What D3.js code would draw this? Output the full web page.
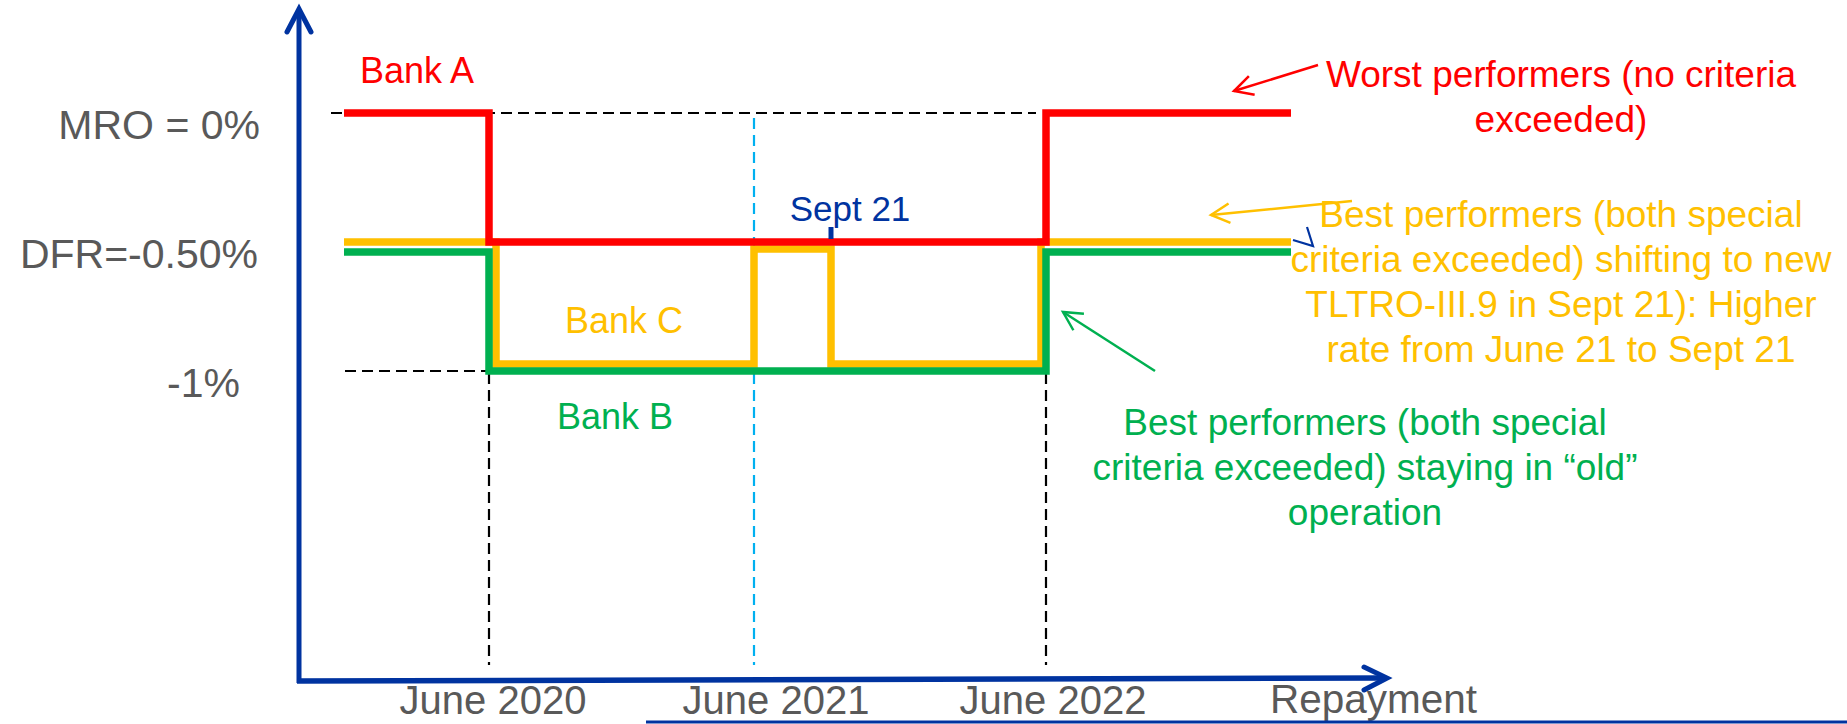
<!DOCTYPE html>
<html>
<head>
<meta charset="utf-8">
<script src="https://cdn.jsdelivr.net/npm/d3@7"></script>
<style>
  body { margin: 0; background: #fff; }
  text { font-family: "Liberation Sans", Arial, sans-serif; }
</style>
</head>
<body>
<div id="chart"></div>
<script>
// data //
const milestones = ['start', 'June 2020', 'June 2021', 'Sept 21', 'June 2022', 'end']
const milestoneMonths = [0, 6, 18, 21, 30, 40]
const rateLevels = [0, -0.5, -1]
const rateLabels = ['MRO = 0%', 'DFR=-0.50%', '-1%']
const xTickMonths = [6, 18, 30]
const xTickLabels = ['June 2020', 'June 2021', 'June 2022']
const bankAMonths = [0, 6, 30, 40]
const bankARates = [0, -0.5, 0, 0]
const bankBMonths = [0, 6, 30, 40]
const bankBRates = [-0.5, -1, -0.5, -0.5]
const bankCMonths = [0, 6, 18, 21, 30, 40]
const bankCRates = [-0.5, -1, -0.5, -1, -0.5, -0.5]

// layout //
const width = 1847
const height = 724
const milestoneX = [344, 489, 754, 831, 1046, 1291] // schematic, uneven spacing
const lineWidth = 7.5
const axisColor = '#0033A0'
const labelGray = '#595959'
const red = '#FF0000'
const yellow = '#FFC000'
const green = '#00B050'

const x = d3.scaleLinear().domain(milestoneMonths).range(milestoneX)
const y = d3.scaleLinear().domain([-1, 0]).range([371, 113])

const svg = d3.select('#chart').append('svg')
  .attr('width', width)
  .attr('height', height)

// guide lines //
const dash = '11,6'
svg.append('line')
  .attr('x1', 331).attr('x2', 1036)
  .attr('y1', y(0)).attr('y2', y(0))
  .attr('stroke', '#000').attr('stroke-width', 2.2).attr('stroke-dasharray', dash)
svg.append('line')
  .attr('x1', 345).attr('x2', x(6))
  .attr('y1', y(-1)).attr('y2', y(-1))
  .attr('stroke', '#000').attr('stroke-width', 2.2).attr('stroke-dasharray', dash)

xTickMonths.forEach((m, i) => {
  const top = i === 1 ? 118 : y(-1) + 2
  svg.append('line')
    .attr('x1', x(m)).attr('x2', x(m))
    .attr('y1', top).attr('y2', 665)
    .attr('stroke', i === 1 ? '#00B0F0' : '#000')
    .attr('stroke-width', 2.2)
    .attr('stroke-dasharray', dash)
})

// step lines //
const rateAt = (months, rates, t) => {
  let r = rates[0]
  months.forEach((m, i) => { if (m <= t) r = rates[i] })
  return r
}

const series = [
  { key: 'C', months: bankCMonths, rates: bankCRates, color: yellow },
  { key: 'B', months: bankBMonths, rates: bankBRates, color: green },
  { key: 'A', months: bankAMonths, rates: bankARates, color: red }
]

// small pixel nudges so overlapping levels stay visible
const nudgeY = (key, rate, t) => {
  if (key === 'B' && rate === -0.5) return 10
  if (key === 'C' && rate === -1) return -7
  if (key === 'C' && rate === -0.5 && rateAt(bankAMonths, bankARates, t) === -0.5) return 7
  return 0
}
const nudgeX = (s, i) => {
  if (s.key !== 'C' || i === 0 || i === s.months.length - 1) return 0
  if (!bankBMonths.includes(s.months[i])) return 0
  return s.rates[i] < s.rates[i - 1] ? 7 : -5
}

const stepLine = d3.line()
  .x(d => d.x)
  .y(d => d.y)
  .curve(d3.curveStepAfter)

series.forEach(s => {
  const pts = s.months.map((m, i) => ({
    x: x(m) + nudgeX(s, i),
    y: y(s.rates[i]) + nudgeY(s.key, s.rates[i], m)
  }))
  svg.append('path')
    .attr('d', stepLine(pts))
    .attr('fill', 'none')
    .attr('stroke', s.color)
    .attr('stroke-width', lineWidth)
    .attr('stroke-linejoin', 'miter')
})

// Sept 21 marker //
svg.append('line')
  .attr('x1', x(21)).attr('x2', x(21))
  .attr('y1', 227).attr('y2', 239)
  .attr('stroke', axisColor).attr('stroke-width', 5)
svg.append('text')
  .attr('x', x(21) + 19).attr('y', 221)
  .attr('text-anchor', 'middle')
  .style('font-size', '35px')
  .attr('fill', axisColor)
  .text(milestones[3])

// axes //
svg.append('line')
  .attr('x1', 299).attr('y1', 683).attr('x2', 299).attr('y2', 10)
  .attr('stroke', axisColor).attr('stroke-width', 5)
svg.append('polyline')
  .attr('points', '287,32 299,9 311,32')
  .attr('fill', 'none').attr('stroke', axisColor).attr('stroke-width', 5)
  .attr('stroke-linecap', 'round').attr('stroke-linejoin', 'miter')
svg.append('line')
  .attr('x1', 297).attr('y1', 681).attr('x2', 1386).attr('y2', 678)
  .attr('stroke', axisColor).attr('stroke-width', 5.5)
svg.append('polyline')
  .attr('points', '1364,667 1387,678 1364,690')
  .attr('fill', 'none').attr('stroke', axisColor).attr('stroke-width', 5)
  .attr('stroke-linecap', 'round')

// rate labels
const rateLabelEnd = [260, 258, 240]
svg.selectAll('.rate-label')
  .data(rateLevels)
  .enter()
  .append('text')
  .attr('class', 'rate-label')
  .attr('x', (d, i) => rateLabelEnd[i])
  .attr('y', d => y(d) + 26)
  .attr('text-anchor', 'end')
  .style('font-size', '41px')
  .attr('fill', labelGray)
  .text((d, i) => rateLabels[i])

// time labels
const tickShift = [4, 22, 7]
svg.selectAll('.time-label')
  .data(xTickMonths)
  .enter()
  .append('text')
  .attr('class', 'time-label')
  .attr('x', (d, i) => x(d) + tickShift[i])
  .attr('y', 714)
  .attr('text-anchor', 'middle')
  .style('font-size', '40px')
  .attr('fill', labelGray)
  .text((d, i) => xTickLabels[i])

svg.append('text')
  .attr('x', 1270).attr('y', 713)
  .style('font-size', '40.5px')
  .attr('fill', labelGray)
  .text('Repayment')

svg.append('line')
  .attr('x1', 646).attr('x2', width)
  .attr('y1', 722).attr('y2', 722)
  .attr('stroke', axisColor).attr('stroke-width', 3)

// bank labels //
const bankLabels = [
  { text: 'Bank A', x: 360, y: 83, color: red },
  { text: 'Bank C', x: 565, y: 333, color: yellow },
  { text: 'Bank B', x: 557, y: 429, color: green }
]
svg.selectAll('.bank-label')
  .data(bankLabels)
  .enter()
  .append('text')
  .attr('class', 'bank-label')
  .attr('x', d => d.x).attr('y', d => d.y)
  .style('font-size', '36px')
  .attr('fill', d => d.color)
  .text(d => d.text)

// annotations //
const notes = [
  { lines: ['Worst performers (no criteria', 'exceeded)'], cx: 1561, y: 87, color: red },
  { lines: ['Best performers (both special', 'criteria exceeded) shifting to new', 'TLTRO-III.9 in Sept 21): Higher', 'rate from June 21 to Sept 21'], cx: 1561, y: 227, color: yellow },
  { lines: ['Best performers (both special', 'criteria exceeded) staying in \u201cold\u201d', 'operation'], cx: 1365, y: 435, color: green }
]
notes.forEach(n => {
  const t = svg.append('text')
    .attr('text-anchor', 'middle')
    .style('font-size', '37px')
    .attr('fill', n.color)
  n.lines.forEach((l, i) => {
    t.append('tspan')
      .attr('x', n.cx)
      .attr('y', n.y + i * 45)
      .text(l)
  })
})

const arrows = [
  { tail: [1318, 65], tip: [1234, 91], color: red, w: 2.5 },
  { tail: [1352, 201], tip: [1211, 215], color: yellow, w: 2.5 },
  { tail: [1155, 371], tip: [1063, 312], color: green, w: 2.5 }
]
arrows.forEach(a => {
  const ang = Math.atan2(a.tail[1] - a.tip[1], a.tail[0] - a.tip[0])
  const len = 21
  const spread = Math.PI / 6.5
  const w1 = [a.tip[0] + len * Math.cos(ang + spread), a.tip[1] + len * Math.sin(ang + spread)]
  const w2 = [a.tip[0] + len * Math.cos(ang - spread), a.tip[1] + len * Math.sin(ang - spread)]
  svg.append('line')
    .attr('x1', a.tail[0]).attr('y1', a.tail[1])
    .attr('x2', a.tip[0]).attr('y2', a.tip[1])
    .attr('stroke', a.color).attr('stroke-width', a.w)
  svg.append('polyline')
    .attr('points', [w1, a.tip, w2].map(p => p.join(',')).join(' '))
    .attr('fill', 'none').attr('stroke', a.color).attr('stroke-width', a.w)
})

// small blue mark next to the yellow line end
svg.append('polyline')
  .attr('points', '1293,240 1313,246 1307,227')
  .attr('fill', 'none').attr('stroke', axisColor).attr('stroke-width', 2.2)
</script>
</body>
</html>
